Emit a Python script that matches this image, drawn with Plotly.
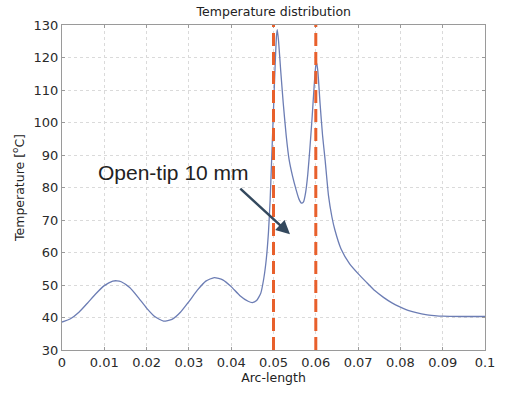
import plotly.graph_objects as go

# Temperature profile along the arc
arc_length = [0.0, 0.002, 0.004, 0.006, 0.008, 0.010, 0.012, 0.013, 0.014, 0.016,
              0.018, 0.020, 0.022, 0.024, 0.026, 0.028, 0.030, 0.032, 0.034, 0.036,
              0.038, 0.040, 0.042, 0.044, 0.045, 0.046, 0.047, 0.0477, 0.0483, 0.0488,
              0.0492, 0.0496, 0.0500, 0.0504, 0.0507, 0.0509, 0.0512, 0.0517, 0.0523, 0.0530,
              0.0537, 0.0545, 0.0553, 0.0560, 0.0566, 0.0571, 0.0576, 0.0581, 0.0586, 0.0591,
              0.0596, 0.0600, 0.0602, 0.0605, 0.0610, 0.0616, 0.0622, 0.0630, 0.0638, 0.0645,
              0.0660, 0.0680, 0.0700, 0.0720, 0.0740, 0.0760, 0.0780, 0.0800, 0.0820, 0.0840,
              0.0860, 0.0880, 0.0900, 0.0950, 0.1000]
temperature = [38.6, 39.6, 41.6, 44.4, 47.3, 49.8, 51.2, 51.3, 51.0, 49.2,
               46.2, 42.9, 40.2, 38.9, 39.4, 41.6, 44.9, 48.4, 51.2, 52.3,
               51.6, 49.5, 46.8, 45.0, 44.6, 45.2, 47.5, 52.0, 58.0, 66.0,
               76.0, 90.0, 104.0, 118.0, 126.5, 128.6, 125.0, 116.0, 106.0, 96.0,
               88.5, 83.5, 79.5, 76.5, 75.2, 75.6, 78.5, 84.0, 92.0, 101.0,
               111.0, 117.5, 118.4, 115.5, 106.0, 96.0, 88.5, 77.5, 71.0, 67.0,
               61.0, 56.5, 53.5, 50.8, 48.2, 46.2, 44.5, 43.2, 42.1, 41.4,
               40.9, 40.6, 40.4, 40.3, 40.3]

# Open-tip region boundaries
tip_bounds = [0.05, 0.06]

x_ticks = [0, 0.01, 0.02, 0.03, 0.04, 0.05, 0.06, 0.07, 0.08, 0.09, 0.1]
x_tick_text = ["0", "0.01", "0.02", "0.03", "0.04", "0.05", "0.06", "0.07", "0.08", "0.09", "0.1"]
y_ticks = [30, 40, 50, 60, 70, 80, 90, 100, 110, 120, 130]

fig = go.Figure()
fig.add_trace(go.Scatter(
    x=arc_length, y=temperature, mode="lines",
    line=dict(color="#6c7db4", width=1.3, shape="spline", smoothing=0.5),
    showlegend=False, hoverinfo="skip",
))

for xb in tip_bounds:
    fig.add_shape(type="line", x0=xb, x1=xb, y0=0, y1=1, xref="x", yref="paper",
                  line=dict(color="#e8602c", width=3, dash="13px,6px"))

fig.add_annotation(x=0.0263, y=84.7, text="Open-tip 10 mm", showarrow=False,
                   font=dict(family="Liberation Sans, Arial", size=21, color="#222222"))
fig.add_annotation(x=0.0539, y=65.6, ax=0.0418, ay=80.1, xref="x", yref="y",
                   axref="x", ayref="y", text="", showarrow=True,
                   arrowhead=2, arrowsize=1.1, arrowwidth=2.5, arrowcolor="#34495e")

axis_common = dict(
    showline=True, linecolor="#9a9a9a", linewidth=1, mirror="ticks",
    ticks="inside", ticklen=3, tickcolor="#9a9a9a",
    showgrid=True, gridcolor="#dadada", griddash="dot", gridwidth=1,
    zeroline=False,
    tickfont=dict(family="DejaVu Sans", size=13, color="#2a2a2a"),
)

fig.update_layout(
    width=507, height=394,
    margin=dict(l=62, r=19, t=25, b=43),
    paper_bgcolor="white", plot_bgcolor="white",
    title=dict(text="Temperature distribution", x=0.54, xanchor="center",
               y=0.97, yanchor="middle",
               font=dict(family="DejaVu Sans", size=12.5, color="#222222")),
    xaxis=dict(range=[0, 0.1], tickvals=x_ticks, ticktext=x_tick_text,
               title=dict(text="Arc-length", standoff=4,
                          font=dict(family="DejaVu Sans", size=12.5, color="#222222")),
               **axis_common),
    yaxis=dict(range=[30, 130], tickvals=y_ticks,
               title=dict(text="Temperature [<sup>o</sup>C]", standoff=6,
                          font=dict(family="DejaVu Sans", size=12.5, color="#222222")),
               **axis_common),
)

fig.write_html("out.html")
